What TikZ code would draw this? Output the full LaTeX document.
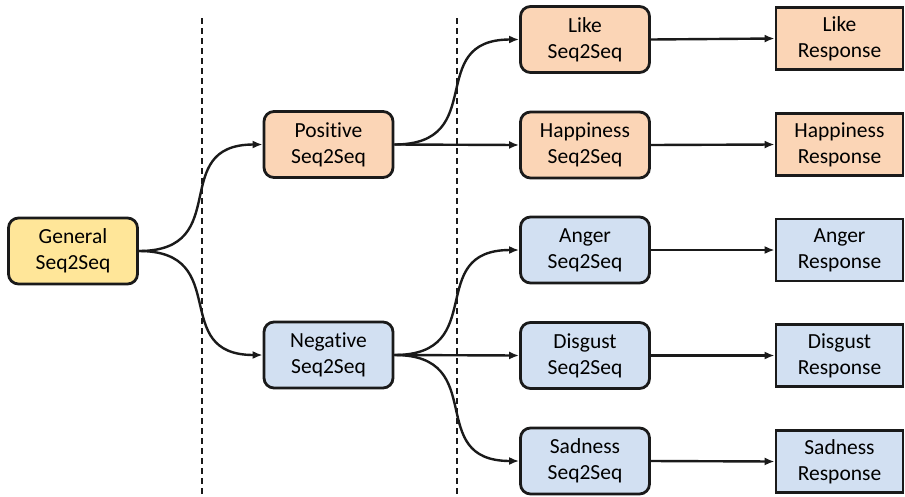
\documentclass[tikz,border=0pt]{standalone}
\usepackage{fontspec}
\setmainfont{Carlito}[Ligatures=NoCommon]
\usetikzlibrary{arrows.meta}
\definecolor{ylw}{HTML}{FFE699}
\definecolor{org}{HTML}{FBD5B6}
\definecolor{blu}{HTML}{D2E0F2}
\definecolor{edge}{HTML}{1A1A1A}
\begin{document}
\begin{tikzpicture}[x=1pt,y=-1pt,
  box/.style={draw=edge, line width=2.8pt, rounded corners=10pt, minimum width=129pt, minimum height=66pt, align=center, inner sep=0pt, font=\fontsize{21.5}{26}\selectfont},
  resp/.style={draw=edge, line width=2.8pt, minimum width=127pt, minimum height=62pt, align=center, inner sep=0pt, font=\fontsize{21.5}{26}\selectfont},
  conn/.style={draw=edge, line width=2.4pt, -{Latex[length=10pt,width=8pt]}},
  sep/.style={draw=edge, line width=1.6pt, dash pattern=on 6pt off 4pt}]
\useasboundingbox (0,0) rectangle (905,496);
% separators
\coordinate (s1t) at (202,18); \coordinate (s1b) at (202,496);
\coordinate (s2t) at (457,18); \coordinate (s2b) at (457,496);
\draw[sep] (s1t) -- (s1b);
\draw[sep] (s2t) -- (s2b);
% nodes
\node[box, fill=ylw] (g) at (73,251) {General\\Seq2Seq};
\node[box, fill=org] (pos) at (328.5,144.5) {Positive\\Seq2Seq};
\node[box, fill=blu] (neg) at (328.5,355) {Negative\\Seq2Seq};
\node[box, fill=org] (like) at (585,39.5) {Like\\Seq2Seq};
\node[box, fill=org] (hap) at (585,145) {Happiness\\Seq2Seq};
\node[box, fill=blu] (ang) at (585,250) {Anger\\Seq2Seq};
\node[box, fill=blu] (dis) at (585,355.5) {Disgust\\Seq2Seq};
\node[box, fill=blu] (sad) at (585,461) {Sadness\\Seq2Seq};
\node[resp, fill=org] (likeR) at (839.5,38.5) {Like\\Response};
\node[resp, fill=org] (hapR) at (839.5,144.5) {Happiness\\Response};
\node[resp, fill=blu] (angR) at (839.5,250) {Anger\\Response};
\node[resp, fill=blu] (disR) at (839.5,355.5) {Disgust\\Response};
\node[resp, fill=blu] (sadR) at (839.5,461.5) {Sadness\\Response};
% connectors
\draw[conn] (g.east) to[out=0,in=180,looseness=1.5] (pos.west);
\draw[conn] (g.east) to[out=0,in=180,looseness=1.5] (neg.west);
\draw[conn] (pos.east) to[out=0,in=180,looseness=1.5] (like.west);
\draw[conn] (pos.east) -- (hap.west);
\draw[conn] (neg.east) to[out=0,in=180,looseness=1.5] (ang.west);
\draw[conn] (neg.east) -- (dis.west);
\draw[conn] (neg.east) to[out=0,in=180,looseness=1.5] (sad.west);
\draw[conn] (like.east) -- (likeR.west);
\draw[conn] (hap.east) -- (hapR.west);
\draw[conn] (ang.east) -- (angR.west);
\draw[conn] (dis.east) -- (disR.west);
\draw[conn] (sad.east) -- (sadR.west);
\end{tikzpicture}
\end{document}
